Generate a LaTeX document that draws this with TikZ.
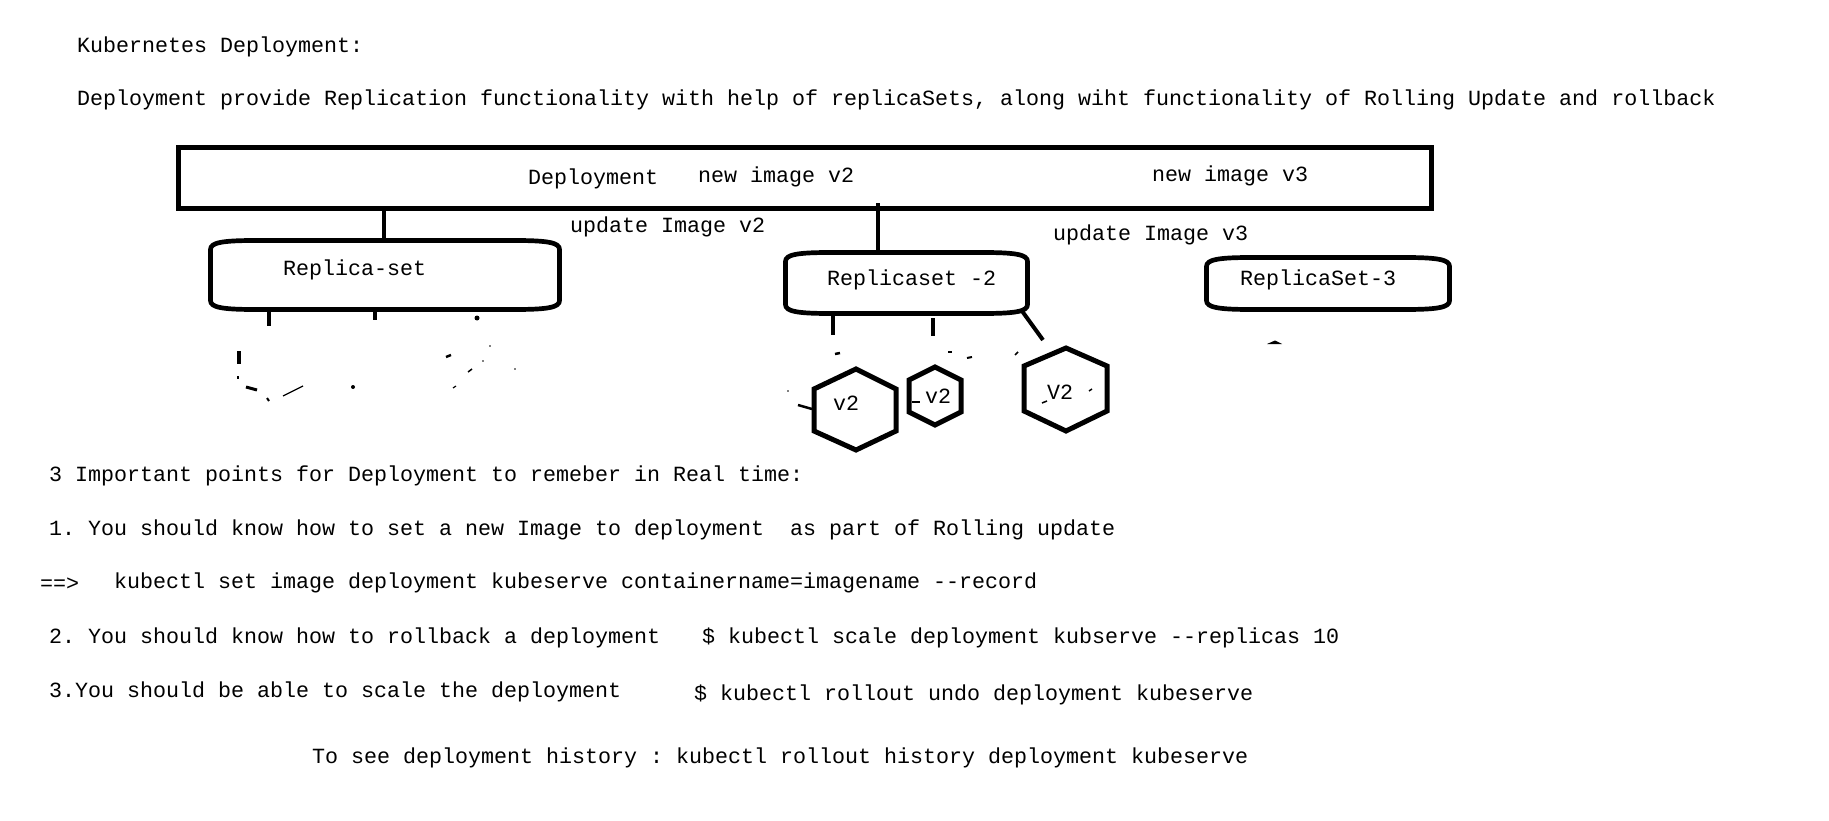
\documentclass[tikz,border=0pt]{standalone}
\usepackage{fontspec}
\setmonofont{Liberation Mono}
\usetikzlibrary{calc}
\newcommand\rsoutline[1]{%
 \draw[rsline] ([yshift=-9pt]#1.north west) .. controls ([yshift=-2pt]#1.north west) and ([xshift=12pt]#1.north west) .. ([xshift=45pt]#1.north west)
   -- ([xshift=-45pt]#1.north east) .. controls ([xshift=-12pt]#1.north east) and ([yshift=-2pt]#1.north east) .. ([yshift=-9pt]#1.north east)
   -- ([yshift=9pt]#1.south east) .. controls ([yshift=2pt]#1.south east) and ([xshift=-12pt]#1.south east) .. ([xshift=-45pt]#1.south east)
   -- ([xshift=45pt]#1.south west) .. controls ([xshift=12pt]#1.south west) and ([yshift=2pt]#1.south west) .. ([yshift=9pt]#1.south west) -- cycle;}
\begin{document}
\begin{tikzpicture}[x=1pt,y=-1pt,
  txt/.style={inner sep=0pt, outer sep=0pt, anchor=base west, font=\ttfamily\fontsize{21.67}{26}\selectfont},
  rsnode/.style={inner sep=0pt, outer sep=0pt},
  rsline/.style={line width=4.7pt, line join=round},
  conn/.style={line width=4.5pt},
  hexline/.style={line width=5pt, line join=miter},
  frag/.style={line width=#1},
  frag/.default=2.5pt]
\fill[white] (0,0) rectangle (1829,821);
\useasboundingbox (0,0) rectangle (1829,821);

% header text
\node[txt] (title) at (77,53) {Kubernetes Deployment:};
\node[txt] (intro) at (77,106) {Deployment provide Replication functionality with help of replicaSets, along wiht functionality of Rolling Update and rollback};

% deployment box
\node[draw, line width=5pt, minimum width=1253pt, minimum height=61pt, inner sep=0pt, outer sep=0pt] (dep) at (805,178) {};
\node[txt] (deplabel) at (528,185) {Deployment};
\node[txt] (newv2) at (698,183) {new image v2};
\node[txt] (newv3) at (1152,182) {new image v3};
\node[txt] (updv2) at (570,233) {update Image v2};
\node[txt] (updv3) at (1053,241) {update Image v3};

% replica sets
\node[rsnode, minimum width=349pt, minimum height=69pt] (rs1) at (385,275) {};
\node[rsnode, minimum width=242pt, minimum height=61pt] (rs2) at (906.5,283) {};
\node[rsnode, minimum width=243pt, minimum height=52pt] (rs3) at (1328,283.5) {};
\rsoutline{rs1}
\rsoutline{rs2}
\rsoutline{rs3}
\node[txt] (rs1label) at (283,276) {Replica-set};
\node[txt] (rs2label) at (827,285) {Replicaset -2};
\node[txt] (rs3label) at (1240,285) {ReplicaSet-3};

% connectors deployment -> replica sets
\draw[conn] ([xshift=-1pt]rs1.north) -- ([xshift=-1pt]rs1.north |- dep.south);
\draw[conn, line width=4pt] ([xshift=-28.5pt]rs2.north) -- ++(0,-49.5);

% remnants under Replica-set
\draw[conn] (269,311) -- (269,326);
\draw[conn, line width=4pt] (375,311) -- (375,320);
\fill (477,318) circle (2.5);
\draw[frag=3.5pt] (239,351) -- (239,364);
\draw[frag=1.5pt] (238,376) -- (238,379);
\draw[frag=3pt] (246,387) -- (257,390);
\draw[frag=2pt] (267,398) -- (269,401);
\draw[frag=1.2pt] (283,396) -- (303,386);
\fill (353,387) circle (2);
\draw[frag=2.5pt] (446,357) -- (451,355);
\fill (490,346) circle (0.8);
\fill (483,361) circle (0.8);
\fill (515,369) circle (0.8);
\draw[frag=1.5pt] (468,372) -- (472,369);
\draw[frag=1.2pt] (453,388) -- (456,386);

% pods of Replicaset -2
\coordinate (p1) at (833,335);
\coordinate (p2) at (933,336);
\coordinate (p3) at (1043,340);
\draw[conn, line width=4pt] (833,313) -- (p1);
\draw[conn, line width=4pt] (933,318) -- (p2);
\draw[conn, line width=4pt] (1022,311) -- (p3);
\draw[frag=2.5pt] (835,354) -- (840,353);
\draw[frag=1.5pt] (948,352) -- (952,352);
\draw[frag=2pt] (967,358) -- (972,357);
\draw[frag=1.5pt] (1015,355) -- (1018,352);
\draw[frag=2.5pt] (798,405) -- (812,409);
\fill (788,391) circle (0.9);

\draw[hexline] (856,369) -- (896,389) -- (896,431) -- (856,450) -- (814,431) -- (814,389) -- cycle;
\draw[hexline] (935,367) -- (961,380) -- (961,412) -- (935,425) -- (909,412) -- (909,380) -- cycle;
\draw[hexline] (1066,348) -- (1107,366) -- (1107,411) -- (1066,431) -- (1024,411) -- (1024,366) -- cycle;
\node[txt] (pod1) at (833,410) {v2};
\node[txt] (pod2) at (925,403) {v2};
\node[txt] (pod3) at (1047,399) {V2};
\draw[frag=2pt] (912,402) -- (920,402);
\draw[frag=1.5pt] (1042,403) -- (1047,401);
\draw[frag=1.5pt] (1089,391) -- (1092,389);

% remnant under ReplicaSet-3
\fill (1267,344) -- (1275,340.5) -- (1282,344) -- cycle;

% bottom notes
\node[txt] (pts) at (49,481) {3 Important points for Deployment to remeber in Real time:};
\node[txt] (pt1) at (49,535) {1. You should know how to set a new Image to deployment~~as part of Rolling update};
\node[txt] (arrow) at (40,590) {==>};
\node[txt] (cmd1) at (114,588) {kubectl set image deployment kubeserve containername=imagename --record};
\node[txt] (pt2) at (49,643) {2. You should know how to rollback a deployment};
\node[txt] (cmd2) at (702,643) {\$ kubectl scale deployment kubserve --replicas 10};
\node[txt] (pt3) at (49,697) {3.You should be able to scale the deployment};
\node[txt] (cmd3) at (694,700) {\$ kubectl rollout undo deployment kubeserve};
\node[txt] (hist) at (312,763) {To see deployment history : kubectl rollout history deployment kubeserve};
\end{tikzpicture}
\end{document}
